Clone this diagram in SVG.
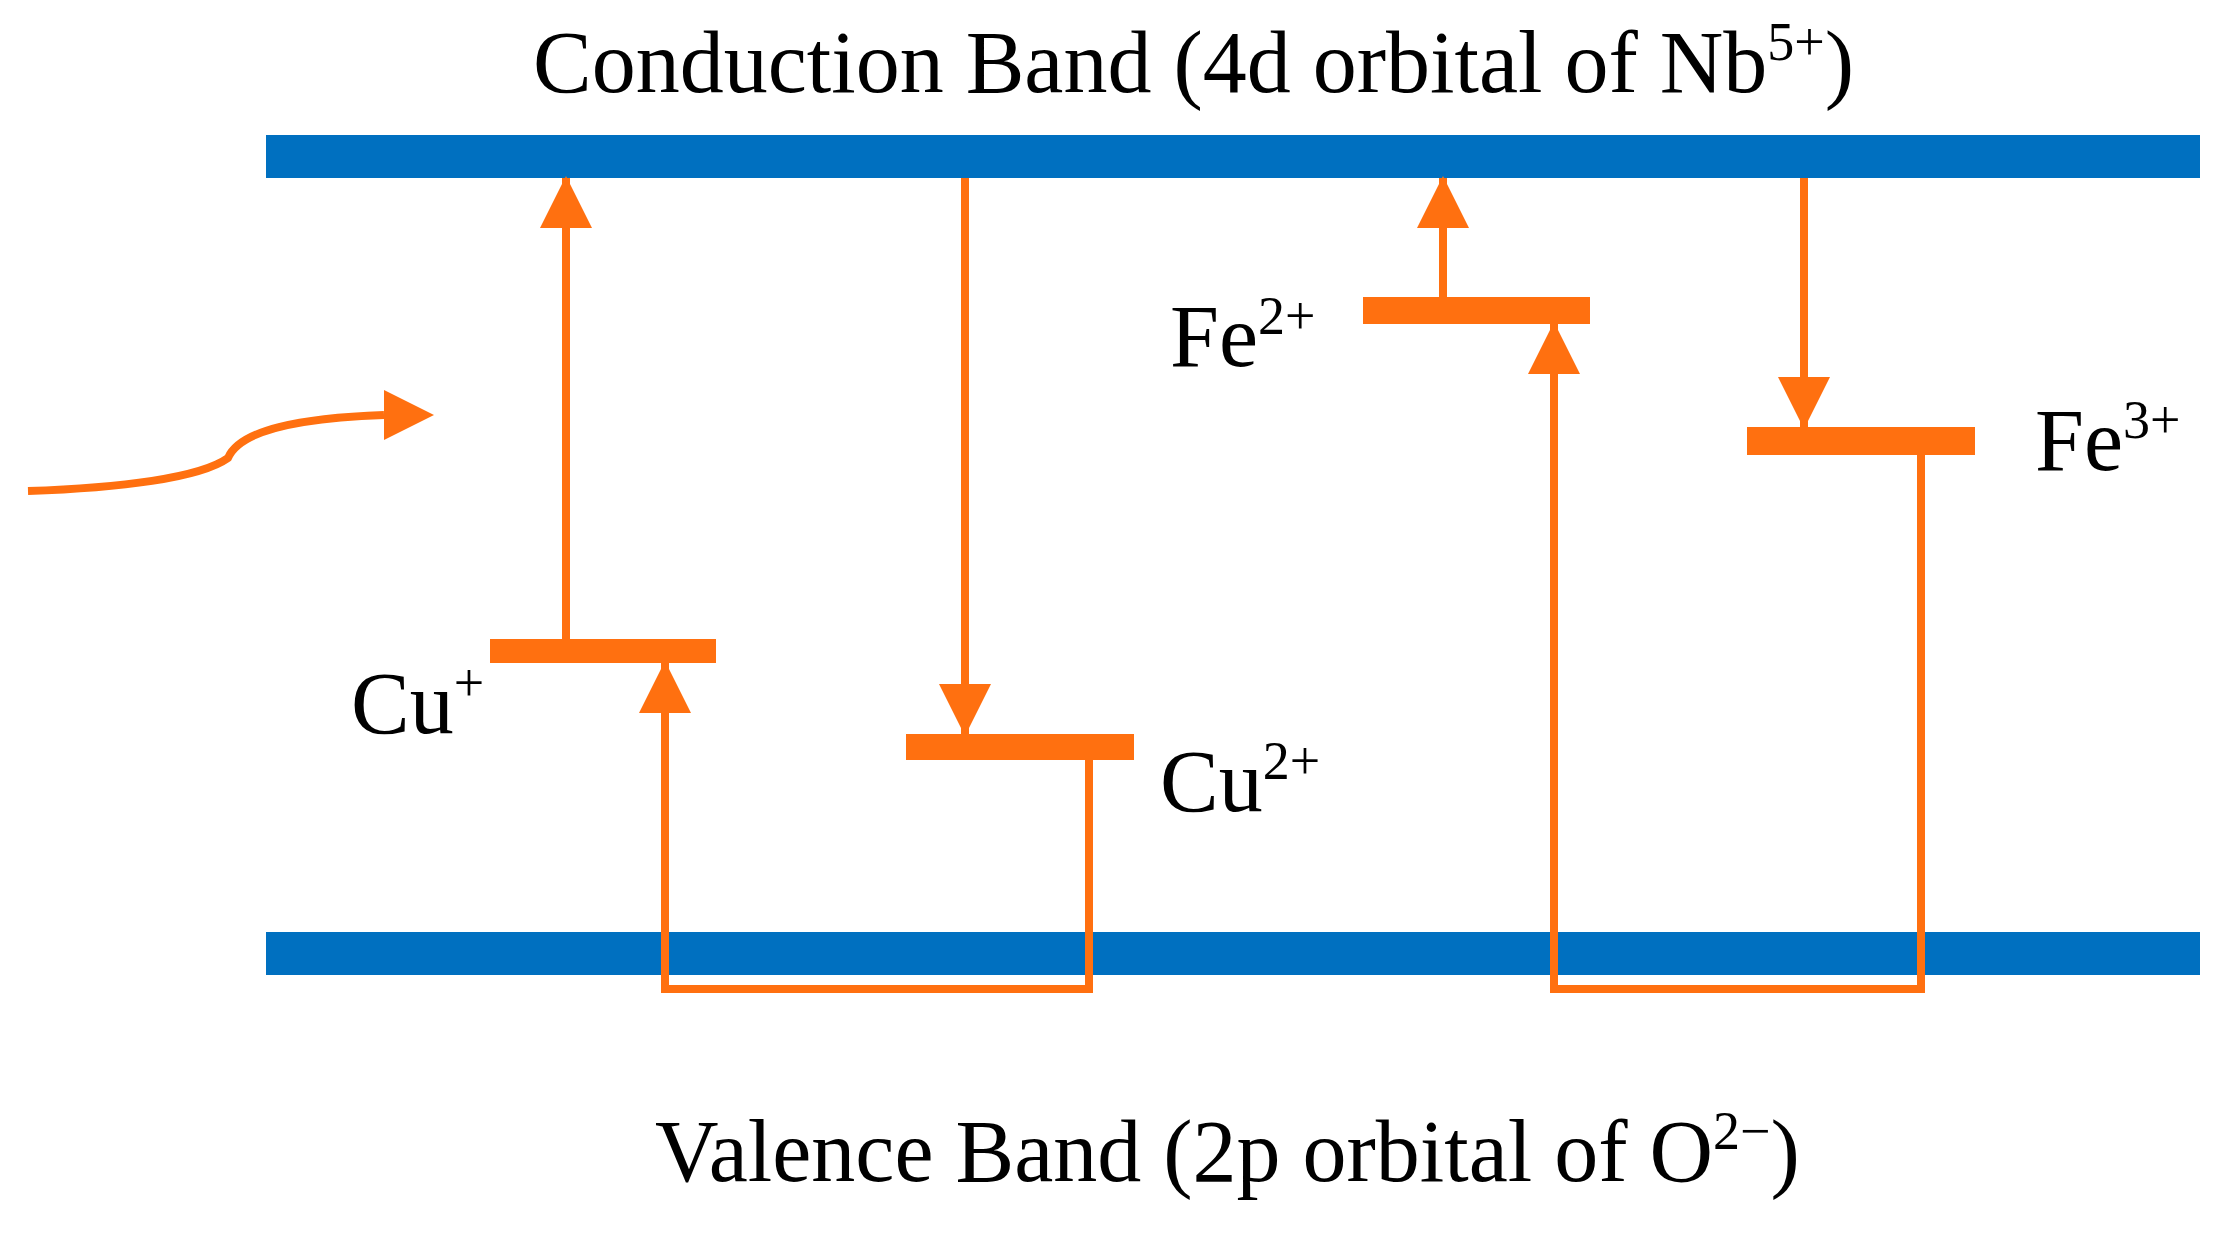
<svg xmlns="http://www.w3.org/2000/svg" width="2220" height="1234" viewBox="0 0 2220 1234">
<style>
.t{font-family:"Liberation Serif","Times New Roman",serif;font-size:88px;fill:#000}
.band{fill:#0070c0}
.lvl{fill:#ff7010}
.ln{stroke:#ff7010;stroke-width:8;fill:none}
</style>
<defs>
<marker id="ah" markerUnits="userSpaceOnUse" markerWidth="52" markerHeight="52" refX="50" refY="26" orient="auto"><path d="M0,0 L52,26 L0,52 Z" fill="#ff7010"/></marker>
</defs>
<rect width="2220" height="1234" fill="#fff"/>
<g id="conduction"><rect class="band" x="266" y="135" width="1934" height="43"/><text class="t" x="533" y="92">Conduction Band (4d orbital of Nb<tspan font-size="54" dy="-32">5+</tspan><tspan dy="32">)</tspan></text></g>
<g id="valence"><rect class="band" x="266" y="932" width="1934" height="43"/><text class="t" x="655" y="1181">Valence Band (2p orbital of O<tspan font-size="54" dy="-32">2−</tspan><tspan dy="32">)</tspan></text></g>
<g id="cu1"><rect class="lvl" x="490" y="639" width="226" height="24"/><text class="t" x="351" y="733">Cu<tspan font-size="54" dy="-32">+</tspan></text></g>
<g id="cu2"><rect class="lvl" x="906" y="734" width="228" height="26"/><text class="t" x="1160" y="811">Cu<tspan font-size="54" dy="-32">2+</tspan></text></g>
<g id="fe2"><rect class="lvl" x="1363" y="297" width="227" height="27"/><text class="t" x="1170" y="366">Fe<tspan font-size="54" dy="-32">2+</tspan></text></g>
<g id="fe3"><rect class="lvl" x="1747" y="427" width="228" height="28"/><text class="t" x="2035" y="470">Fe<tspan font-size="54" dy="-32">3+</tspan></text></g>
<g id="connectors">
<path class="ln" d="M566,639 V178" marker-end="url(#ah)"/>
<path class="ln" d="M1089,760 V989 H665 V663" marker-end="url(#ah)"/>
<path class="ln" d="M965,178 V734" marker-end="url(#ah)"/>
<path class="ln" d="M1443,297 V178" marker-end="url(#ah)"/>
<path class="ln" d="M1921,455 V989 H1554 V324" marker-end="url(#ah)"/>
<path class="ln" d="M1804,178 V427" marker-end="url(#ah)"/>
<path d="M28,491 C120,488 200,478 228,458 C240,430 300,418 384,415" stroke="#ff7010" stroke-width="8" fill="none"/>
<path d="M384,390 L434,415 L384,440 Z" fill="#ff7010"/>
</g>
</svg>
